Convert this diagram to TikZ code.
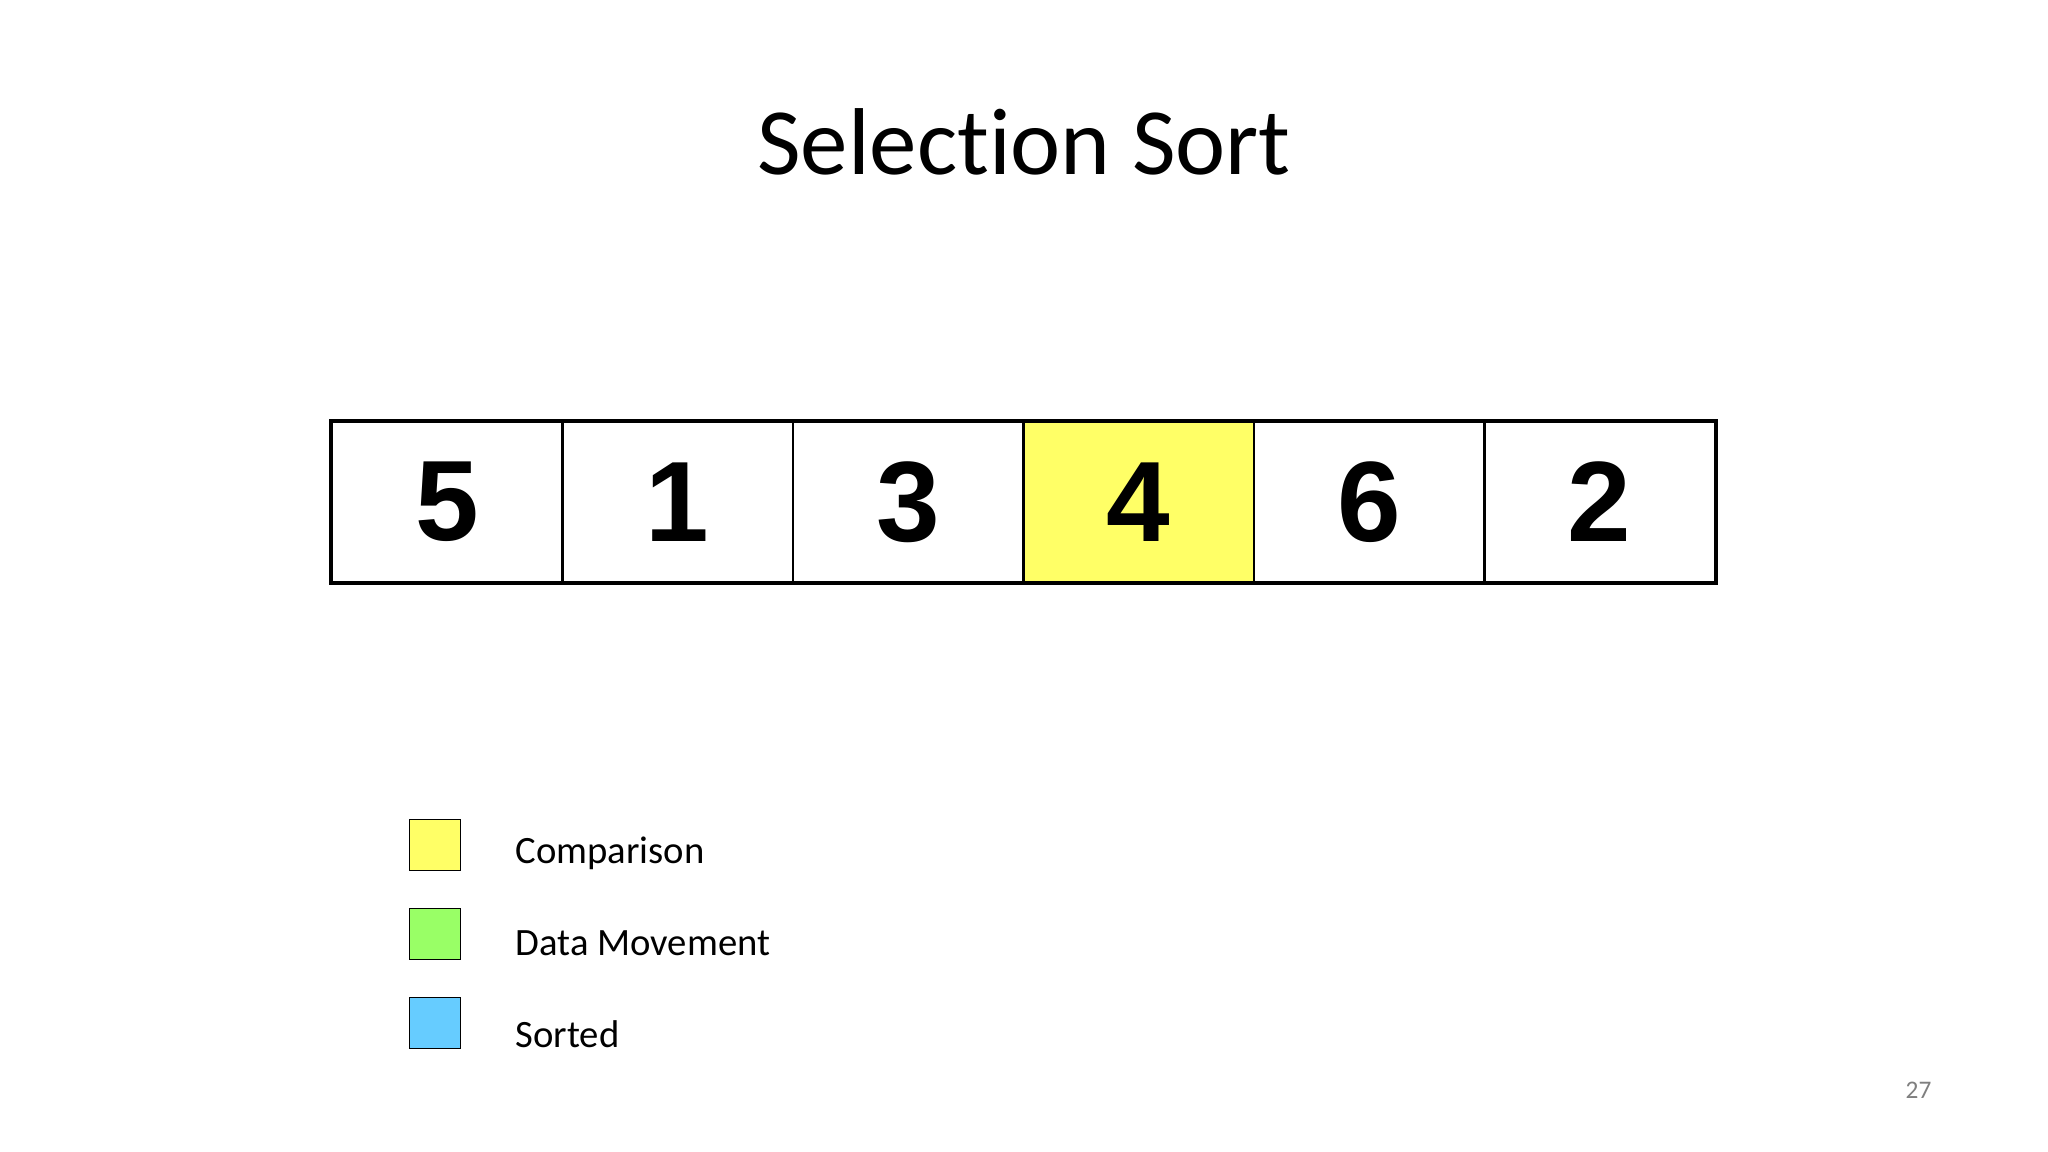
\documentclass[tikz,border=0pt]{standalone}
\usepackage{fontspec}
\setmainfont{Carlito}[Ligatures={NoCommon}]
\newfontfamily\digitfont{Liberation Sans}
\definecolor{cmpyellow}{HTML}{FFFF66}
\definecolor{movegreen}{HTML}{99FF66}
\definecolor{sortblue}{HTML}{66CCFF}
\definecolor{pagegray}{HTML}{7F7F7F}
\tikzset{
  cell/.style={draw, line width=0.6pt, minimum width=2.305cm, minimum height=1.6cm,
    inner sep=0pt, font=\digitfont\bfseries\fontsize{32.5}{40}\selectfont},
  keybox/.style={draw, line width=0.5pt, minimum width=0.51cm, minimum height=0.51cm, inner sep=0pt},
  keytext/.style={anchor=base west, inner sep=0pt, font=\fontsize{11}{13}\selectfont}
}
\begin{document}
\begin{tikzpicture}[x=0.01cm, y=-0.01cm]
            \useasboundingbox (0,0) rectangle (2048,1152);
            \node[anchor=base, inner sep=0pt, font=\fontsize{27}{33}\selectfont] (title) at (1024,175) {Selection Sort};

            % the array
            \node[cell] (c1) at (447.25,502) {5};
            \node[cell] (c2) at (677.75,502) {1};
            \node[cell] (c3) at (908.25,502) {3};
            \node[cell, fill=cmpyellow] (c4) at (1138.75,502) {4};
            \node[cell] (c5) at (1369.25,502) {6};
            \node[cell] (c6) at (1599.75,502) {2};
            \draw[line width=1.2pt] (c1.north west) rectangle (c6.south east);

            % legend
            \node[keybox, fill=cmpyellow] (k1) at (435,845) {};
            \node[keybox, fill=movegreen] (k2) at (435,934) {};
            \node[keybox, fill=sortblue] (k3) at (435,1023) {};
            \node[keytext] (t1) at (515,863) {Comparison};
            \node[keytext] (t2) at (515,955) {Data Movement};
            \node[keytext] (t3) at (515,1047) {Sorted};

            \node[anchor=base west, inner sep=0pt, text=pagegray, font=\fontsize{7.2}{9}\selectfont] (page) at (1905,1098) {27};
\end{tikzpicture}
\end{document}
